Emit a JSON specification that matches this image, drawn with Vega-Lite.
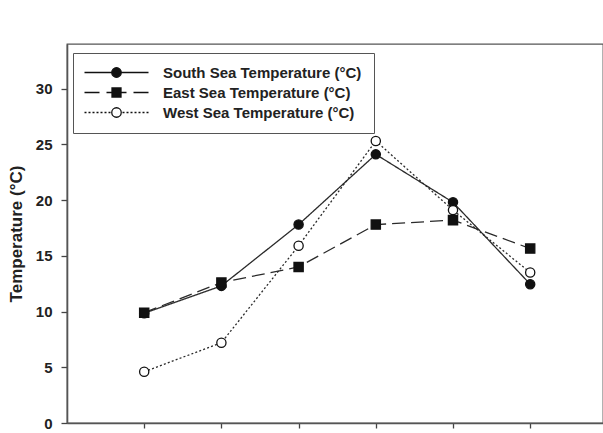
{
  "$schema": "https://vega.github.io/schema/vega-lite/v6.json",
  "width": 536,
  "height": 379,
  "autosize": {"type": "none"},
  "padding": {"left": 67, "top": 44, "right": 0, "bottom": 10},
  "background": "white",
  "config": {
    "view": {"stroke": "#555", "strokeWidth": 1.3},
    "font": "Liberation Sans"
  },
  "data": {
    "values": [
      {"idx": 1, "series": "South Sea Temperature (°C)", "temp": 9.85},
      {"idx": 2, "series": "South Sea Temperature (°C)", "temp": 12.3},
      {"idx": 3, "series": "South Sea Temperature (°C)", "temp": 17.8},
      {"idx": 4, "series": "South Sea Temperature (°C)", "temp": 24.1},
      {"idx": 5, "series": "South Sea Temperature (°C)", "temp": 19.8},
      {"idx": 6, "series": "South Sea Temperature (°C)", "temp": 12.45},
      {"idx": 1, "series": "East Sea Temperature (°C)", "temp": 9.9},
      {"idx": 2, "series": "East Sea Temperature (°C)", "temp": 12.6},
      {"idx": 3, "series": "East Sea Temperature (°C)", "temp": 14.0},
      {"idx": 4, "series": "East Sea Temperature (°C)", "temp": 17.8},
      {"idx": 5, "series": "East Sea Temperature (°C)", "temp": 18.2},
      {"idx": 6, "series": "East Sea Temperature (°C)", "temp": 15.65},
      {"idx": 1, "series": "West Sea Temperature (°C)", "temp": 4.6},
      {"idx": 2, "series": "West Sea Temperature (°C)", "temp": 7.2},
      {"idx": 3, "series": "West Sea Temperature (°C)", "temp": 15.9},
      {"idx": 4, "series": "West Sea Temperature (°C)", "temp": 25.3},
      {"idx": 5, "series": "West Sea Temperature (°C)", "temp": 19.1},
      {"idx": 6, "series": "West Sea Temperature (°C)", "temp": 13.5}
    ]
  },
  "encoding": {
    "x": {
      "field": "idx", "type": "quantitative",
      "scale": {"domain": [0, 6.943], "nice": false, "zero": false},
      "axis": {
        "title": null, "values": [1, 2, 3, 4, 5, 6], "labels": false,
        "grid": false, "tickSize": 5, "tickColor": "#444", "tickWidth": 1.3,
        "domainColor": "#555", "domainWidth": 1.6
      }
    },
    "y": {
      "field": "temp", "type": "quantitative",
      "scale": {"domain": [0, 34], "nice": false},
      "axis": {
        "title": "Temperature (°C)", "values": [0, 5, 10, 15, 20, 25, 30],
        "grid": false, "tickSize": 6, "tickColor": "#444", "tickWidth": 1.3,
        "domainColor": "#555", "domainWidth": 1.6,
        "labelFont": "Liberation Sans", "labelFontWeight": "bold", "labelFontSize": 15,
        "labelColor": "#222", "labelPadding": 9,
        "titleFont": "Liberation Sans", "titleFontWeight": "bold", "titleFontSize": 17,
        "titleColor": "#222", "titlePadding": 10
      }
    }
  },
  "layer": [
    {
      "mark": {"type": "line", "color": "#2a2a2a", "strokeWidth": 1.3},
      "encoding": {
        "detail": {"field": "series"},
        "strokeDash": {
          "field": "series", "type": "nominal",
          "scale": {
            "domain": ["South Sea Temperature (°C)", "East Sea Temperature (°C)", "West Sea Temperature (°C)"],
            "range": [[1, 0], [13, 6], [2, 2.2]]
          },
          "legend": null
        }
      }
    },
    {
      "mark": {"type": "point", "filled": true, "size": 85, "stroke": "#111", "strokeWidth": 1.3, "opacity": 1},
      "encoding": {
        "shape": {
          "field": "series", "type": "nominal",
          "scale": {
            "domain": ["South Sea Temperature (°C)", "East Sea Temperature (°C)", "West Sea Temperature (°C)"],
            "range": ["circle", "square", "circle"]
          },
          "legend": null
        },
        "fill": {
          "field": "series", "type": "nominal",
          "scale": {
            "domain": ["South Sea Temperature (°C)", "East Sea Temperature (°C)", "West Sea Temperature (°C)"],
            "range": ["#111", "#111", "white"]
          },
          "legend": null
        }
      }
    },
    {
      "transform": [{"filter": "false"}],
      "mark": {"type": "point", "filled": true, "size": 100, "stroke": "#111", "strokeWidth": 1.3, "opacity": 1},
      "encoding": {
        "shape": {
          "field": "series", "type": "nominal",
          "scale": {
            "domain": ["South Sea Temperature (°C)", "East Sea Temperature (°C)", "West Sea Temperature (°C)"],
            "range": [
              "M-6.4,0H6.4M-0.95,0A0.95,0.95,0,1,0,0.95,0A0.95,0.95,0,1,0,-0.95,0Z",
              "M-6.4,0H-3.4M-2,0H-1M1,0H2M3.4,0H6.4M-0.9,-0.9H0.9V0.9H-0.9Z",
              "M-6.4,0H-6M-5.6,0H-5.2M-4.8,0H-4.4M-4,0H-3.6M-3.2,0H-2.8M-2.4,0H-2M-1.6,0H-1.2M1.2,0H1.6M2,0H2.4M2.8,0H3.2M3.6,0H4M4.4,0H4.8M5.2,0H5.6M6,0H6.4M-0.95,0A0.95,0.95,0,1,0,0.95,0A0.95,0.95,0,1,0,-0.95,0Z"
            ]
          },
          "legend": {
            "title": null, "orient": "none", "legendX": 6, "legendY": 9,
            "padding": 12, "strokeColor": "#555", "fillColor": "white",
            "symbolOffset": 24, "labelOffset": 39, "rowPadding": 4,
            "labelFont": "Liberation Sans", "labelFontWeight": "bold", "labelFontSize": 15,
            "labelColor": "#222", "labelLimit": 400,
            "symbolSize": 100, "symbolStrokeWidth": 1.3,
            "encode": {"symbols": {"update": {"stroke": {"value": "#222"}, "strokeWidth": {"value": 1.3}}}}
          }
        },
        "fill": {
          "field": "series", "type": "nominal",
          "scale": {
            "domain": ["South Sea Temperature (°C)", "East Sea Temperature (°C)", "West Sea Temperature (°C)"],
            "range": ["#111", "#111", "white"]
          },
          "legend": {
            "title": null, "orient": "none", "legendX": 6, "legendY": 9,
            "padding": 12, "strokeColor": "#555", "fillColor": "white",
            "symbolOffset": 24, "labelOffset": 39, "rowPadding": 4,
            "labelFont": "Liberation Sans", "labelFontWeight": "bold", "labelFontSize": 15,
            "labelColor": "#222", "labelLimit": 400,
            "symbolSize": 100, "symbolStrokeWidth": 1.3,
            "encode": {"symbols": {"update": {"stroke": {"value": "#222"}, "strokeWidth": {"value": 1.3}}}}
          }
        }
      }
    }
  ],
  "resolve": {"scale": {"shape": "independent", "fill": "independent"}}
}
